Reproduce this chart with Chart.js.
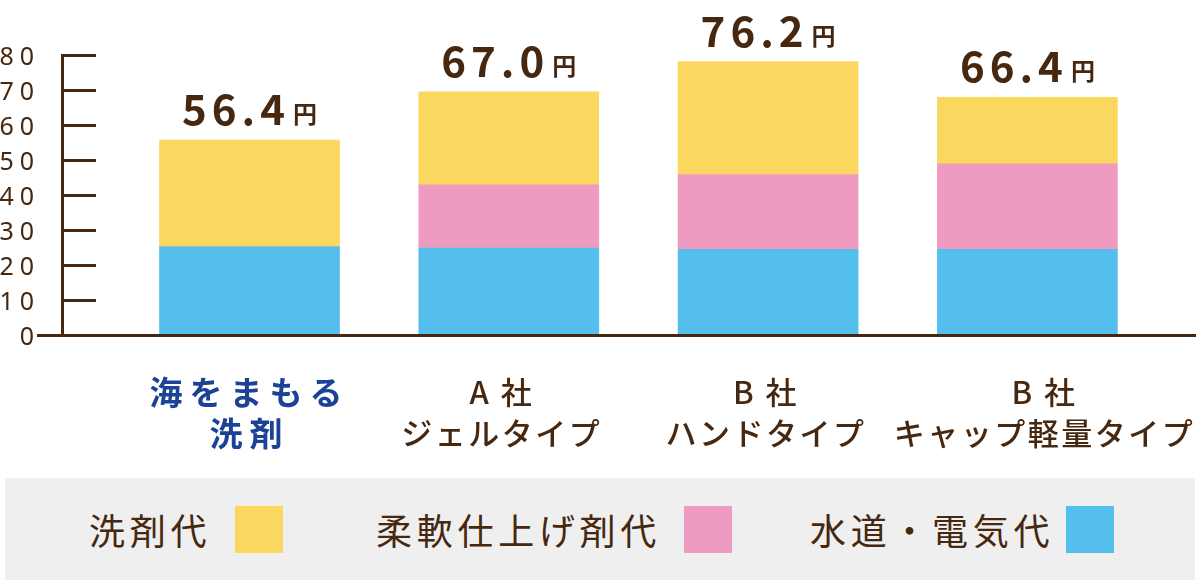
<!DOCTYPE html>
<html>
<head>
<meta charset="utf-8">
<script src="https://cdn.jsdelivr.net/npm/chart.js@4/dist/chart.umd.min.js"></script>
<style>
  html, body { margin: 0; padding: 0; background: #ffffff; }
  #wrap { position: relative; width: 1200px; height: 587px; overflow: hidden; }
  #chartBox { position: absolute; left: 0; top: 0; width: 1200px; height: 470px; }
  #legend {
    position: absolute; left: 5px; top: 478px; width: 1190px; height: 102px;
    background: #efefef; display: flex; align-items: center; justify-content: flex-start;
    box-sizing: border-box; padding-left: 84px;
    font-family: "Noto Sans CJK JP", sans-serif; font-size: 36px; color: #46270f;
    letter-spacing: 4.7px;
  }
  .item { display: flex; align-items: center; white-space: nowrap; }
  .sw { display: inline-block; width: 48px; height: 47px; }
</style>
</head>
<body>
<div id="wrap">
  <div id="chartBox"><canvas id="c"></canvas></div>
  <div id="legend"></div>
</div>
<script>
// ---------- data ----------
const categories = [
  ["海をまもる", "洗剤"],
  ["A 社", "ジェルタイプ"],
  ["B 社", "ハンドタイプ"],
  ["B 社", "キャップ軽量タイプ"]
];
const seriesNames = ["水道・電気代", "柔軟仕上げ剤代", "洗剤代"];
const waterElectric = [25.2, 24.8, 24.5, 24.5];
const softener      = [0,    18.1, 21.3, 24.4];
const detergent     = [30.5, 26.6, 32.3, 19.0];
const totalLabels = ["56.4", "67.0", "76.2", "66.4"];
const unitLabel = "円";
const yTickValues = [0, 10, 20, 30, 40, 50, 60, 70, 80];

// ---------- style ----------
const BROWN = "#46270f";
const BLUE = "#1b4294";
const seriesColors = ["#54bfed", "#ef9bc1", "#fad75f"];
const FONT = '"Noto Sans CJK JP", "Noto Sans", sans-serif';
const legendOrder = [2, 1, 0];
const legendGaps = [0, 93, 78];
const swatchGap = [24, 23, 12];
const xLabelNudge = [0, -0.027, -0.008, 0.066]; // category-axis units

const seriesValues = [waterElectric, softener, detergent];
const toPoints = arr => arr.map((v, i) => ({ x: i, y: v }));

function wrapLabels(scale, pick) {
  if (!scale || scale.__spaced) return;
  scale.__spaced = true;
  const orig = scale.drawLabels;
  scale.drawLabels = function (area) {
    const ctx = this.ctx;
    const base = ctx.fillText;
    ctx.fillText = function () {
      this.letterSpacing = pick(String(this.fillStyle).toLowerCase());
      return base.apply(this, arguments);
    };
    try { orig.call(this, area); }
    finally { delete ctx.fillText; ctx.letterSpacing = "0px"; }
  };
}

const customPlugin = {
  id: "custom",
  beforeDraw(chart) {
    wrapLabels(chart.scales.x, fs => fs === BLUE.toLowerCase() ? "7px" : "2.5px");
    wrapLabels(chart.scales.y, () => "6px");
  },
  afterDatasetsDraw(chart) {
    const ctx = chart.ctx;
    const n = chart.data.datasets.length;
    const last = chart.getDatasetMeta(n - 1);
    ctx.save();
    ctx.fillStyle = BROWN;
    ctx.textAlign = "left";
    ctx.textBaseline = "alphabetic";
    last.data.forEach((bar, i) => {
      let topY = Infinity;
      for (let k = 0; k < n; k++) topY = Math.min(topY, chart.getDatasetMeta(k).data[i].y);
      ctx.font = "bold 42px " + FONT; ctx.letterSpacing = "5px";
      const w1 = ctx.measureText(totalLabels[i]).width;
      ctx.font = "bold 24px " + FONT; ctx.letterSpacing = "0px";
      const w2 = ctx.measureText(unitLabel).width;
      const gap = 3;
      const x0 = bar.x - (w1 + gap + w2) / 2;
      const by = topY - 15;
      ctx.font = "bold 42px " + FONT; ctx.letterSpacing = "5px";
      ctx.fillText(totalLabels[i], x0, by);
      ctx.font = "bold 24px " + FONT; ctx.letterSpacing = "0px";
      ctx.fillText(unitLabel, x0 + w1 + gap, by - 2);
    });
    ctx.restore();
  },
  afterDraw(chart) {
    const ctx = chart.ctx, y = chart.scales.y, a = chart.chartArea;
    ctx.save();
    ctx.strokeStyle = BROWN;
    ctx.lineWidth = 3;
    y.ticks.forEach(t => {
      const py = Math.round(y.getPixelForValue(t.value)) + 0.5;
      ctx.beginPath();
      if (t.value === 0) { ctx.moveTo(a.left - 25, py); ctx.lineTo(a.left, py); }
      else { ctx.moveTo(a.left, py); ctx.lineTo(a.left + 34, py); }
      ctx.stroke();
    });
    ctx.restore();
  }
};

new Chart(document.getElementById("c"), {
  type: "bar",
  data: {
    datasets: seriesNames.map((name, k) => ({
      label: name,
      data: toPoints(seriesValues[k]),
      backgroundColor: seriesColors[k],
      borderWidth: 0,
      barThickness: 180
    }))
  },
  options: {
    responsive: true,
    maintainAspectRatio: false,
    animation: false,
    devicePixelRatio: 1,
    layout: { padding: { top: 55, right: 5, left: 0, bottom: 0 } },
    plugins: { legend: { display: false }, tooltip: { enabled: false } },
    scales: {
      x: {
        type: "linear",
        stacked: true,
        offset: false,
        min: -0.7231,
        max: 3.6464,
        grid: { display: false },
        border: { display: true, color: BROWN, width: 3, z: 1 },
        afterBuildTicks: s => { s.ticks = categories.map((_, i) => ({ value: i + xLabelNudge[i] })); },
        afterFit: s => { s.height = 135; s.paddingLeft = 0; s.paddingRight = 0; },
        ticks: {
          autoSkip: false, maxRotation: 0, minRotation: 0, padding: 29,
          callback: (v, i) => categories[i],
          color: c => c.index === 0 ? BLUE : BROWN,
          font: c => c.index === 0
            ? { family: FONT, size: 33, weight: "bold", lineHeight: 41 / 33 }
            : { family: FONT, size: 31, weight: "500", lineHeight: 41 / 31 }
        }
      },
      y: {
        stacked: true,
        min: 0,
        max: 80,
        afterFit: s => { s.width = 62; s.paddingTop = 0; s.paddingBottom = 0; },
        afterBuildTicks: s => { s.ticks = yTickValues.map(v => ({ value: v })); },
        grid: { display: false },
        border: { display: true, color: BROWN, width: 3 },
        ticks: { padding: 14, labelOffset: 3, color: BROWN, font: { family: '"Noto Sans", sans-serif', size: 25 } }
      }
    }
  },
  plugins: [customPlugin]
});

// ---------- legend ----------
const legendEl = document.getElementById("legend");
legendOrder.forEach((k, j) => {
  const item = document.createElement("div");
  item.className = "item";
  item.style.marginLeft = legendGaps[j] + "px";
  const t = document.createElement("span");
  t.textContent = seriesNames[k];
  const sw = document.createElement("span");
  sw.className = "sw";
  sw.style.background = seriesColors[k];
  sw.style.marginLeft = swatchGap[j] + "px";
  item.appendChild(t);
  item.appendChild(sw);
  legendEl.appendChild(item);
});
</script>
</body>
</html>
